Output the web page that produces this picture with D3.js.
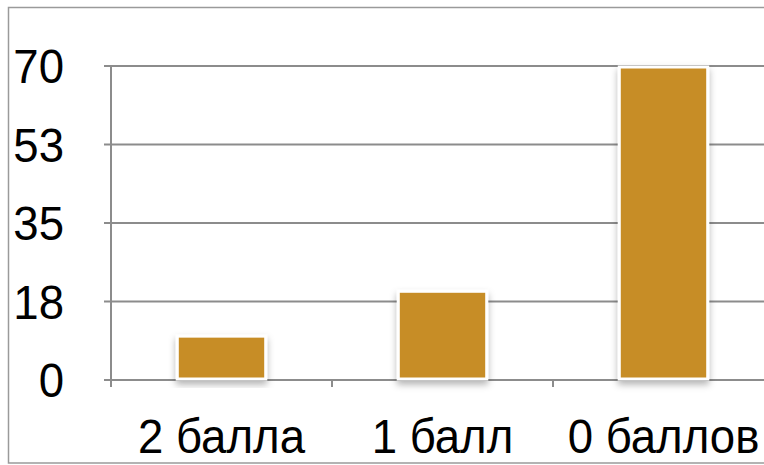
<!DOCTYPE html>
<html>
<head>
<meta charset="utf-8">
<script src="https://cdn.jsdelivr.net/npm/d3@7"></script>
<style>
  body { margin: 0; background: #fff; }
  text { font-family: 'Liberation Sans', Arial, sans-serif; fill: #000; }
</style>
</head>
<body>
<div id="canvas"></div>
<script>
var categories = ['2 балла', '1 балл', '0 баллов'];
var values = [10, 20, 70];
var tickValues = [0, 17.5, 35, 52.5, 70];
var tickLabels = ['0', '18', '35', '53', '70'];

var svg = d3.select('#canvas').append('svg')
    .attr('width', 764)
    .attr('height', 465);

var defs = svg.append('defs');
var shadow = defs.append('filter')
    .attr('id', 'shadow')
    .attr('x', '-20%').attr('y', '-20%')
    .attr('width', '140%').attr('height', '140%');
shadow.append('feDropShadow')
    .attr('dx', 0).attr('dy', 4)
    .attr('stdDeviation', 3.5)
    .attr('flood-color', '#000')
    .attr('flood-opacity', 0.3);

// outer frame
svg.append('rect')
    .attr('x', 8.5).attr('y', 7.5)
    .attr('width', 800).attr('height', 455.5)
    .attr('fill', 'none')
    .attr('stroke', '#9a9a9a')
    .attr('stroke-width', 1.5);

var x = d3.scaleBand()
    .domain(categories)
    .range([111, 774])
    .paddingInner(0.6)
    .paddingOuter(0.3);

var y = d3.scaleLinear()
    .domain([0, 70])
    .range([380, 66]);

var gridColor = '#8c8c8c';

// gridlines + left ticks
svg.append('g').selectAll('line')
    .data(tickValues)
    .enter().append('line')
    .attr('x1', 104).attr('x2', 774)
    .attr('y1', function(d) { return y(d); })
    .attr('y2', function(d) { return y(d); })
    .attr('stroke', gridColor)
    .attr('stroke-width', 2);

// y axis line
svg.append('line')
    .attr('x1', 111).attr('x2', 111)
    .attr('y1', y(70)).attr('y2', 387)
    .attr('stroke', gridColor)
    .attr('stroke-width', 2);

// bottom ticks between categories
svg.append('g').selectAll('line')
    .data(categories)
    .enter().append('line')
    .attr('x1', function(d, i) { return 111 + i * (663 / 3); })
    .attr('x2', function(d, i) { return 111 + i * (663 / 3); })
    .attr('y1', 380).attr('y2', 387)
    .attr('stroke', gridColor)
    .attr('stroke-width', 2);

// y labels (slightly condensed like the original)
svg.append('g').selectAll('text')
    .data(tickValues)
    .enter().append('text')
    .attr('transform', function(d) { return 'translate(64,' + y(d) + ') scale(0.95,1)'; })
    .attr('dy', '0.36em')
    .attr('text-anchor', 'end')
    .attr('font-size', 48)
    .text(function(d, i) { return tickLabels[i]; });

// bars
svg.append('g').selectAll('rect')
    .data(values)
    .enter().append('rect')
    .attr('x', function(d, i) { return x(categories[i]); })
    .attr('y', function(d) { return y(d) + 1; })
    .attr('width', x.bandwidth())
    .attr('height', function(d) { return y(0) - y(d) - 2; })
    .attr('fill', '#c78d26')
    .attr('stroke', '#fff')
    .attr('stroke-width', 3)
    .attr('filter', 'url(#shadow)');

// x labels
svg.append('g').selectAll('text')
    .data(categories)
    .enter().append('text')
    .attr('transform', function(d) { return 'translate(' + (x(d) + x.bandwidth() / 2) + ',453) scale(0.95,1)'; })
    .attr('text-anchor', 'middle')
    .attr('font-size', 48)
    .text(function(d) { return d; });
</script>
</body>
</html>
